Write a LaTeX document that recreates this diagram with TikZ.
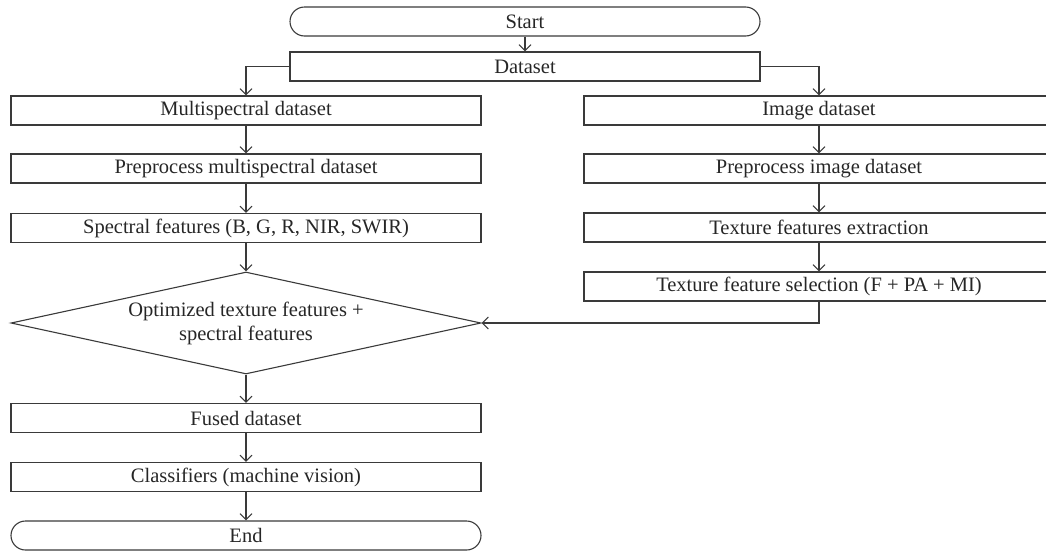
\documentclass[tikz,border=0pt]{standalone}
\usepackage{fontspec}
\setmainfont{Liberation Serif}
\usetikzlibrary{arrows.meta,shapes.geometric}
\definecolor{FL}{HTML}{3A3A3A}
\newcommand*{\flowfont}{\fontsize{20.5}{24}\selectfont\color{black!85}}

\begin{document}
\begin{tikzpicture}[x = 1pt, y = -1pt,
  box/.style = {draw = FL, line width = 1.1pt, minimum width = 470pt,
    minimum height = 29pt, inner sep = 0pt, font = \flowfont},
  terminal/.style = {box, rounded corners = 14.5pt},
  decision/.style = {diamond, draw = FL, line width = 1.1pt,
    minimum width = 470pt, minimum height = 102pt, shape aspect = 4.6,
    inner sep = 0pt, align = center, font = \flowfont},
  flow/.style = {draw = FL, line width = 1.1pt,
    -{Straight Barb[length = 6pt, width = 12pt]}}]
  \useasboundingbox (0,0) rectangle (1046,552);
  % top
  \node[terminal] (start) at (525,21.5) {Start};
  \node[box] (dataset) at (525,66.5) {Dataset};
  % left branch
  \node[box] (multi) at (246,110.5) {Multispectral dataset};
  \node[box] (premulti) at (246,168.5) {Preprocess multispectral dataset};
  \node[box] (spectral) at (246,228) {Spectral features (B, G, R, NIR, SWIR)};
  % right branch
  \node[box] (image) at (819,110.5) {Image dataset};
  \node[box] (preimage) at (819,168.5) {Preprocess image dataset};
  \node[box] (texext) at (819,227.5) {Texture features extraction};
  \node[box] (texsel) at (819,286.5) {Texture feature selection (F + PA + MI)};
  % merge
  \node[decision] (optim) at (246,323)
    {Optimized texture features +\\ spectral features};
  \node[box] (fused) at (246,418) {Fused dataset};
  \node[box] (classif) at (246,477) {Classifiers (machine vision)};
  \node[terminal] (end) at (246,535.5) {End};

  \draw[flow] (start) -- (dataset);
  \draw[flow] (dataset.west) -| (multi.north);
  \draw[flow] (dataset.east) -| (image.north);
  \draw[flow] (multi) -- (premulti);
  \draw[flow] (premulti) -- (spectral);
  \draw[flow] (spectral) -- (optim.north);
  \draw[flow] (image) -- (preimage);
  \draw[flow] (preimage) -- (texext);
  \draw[flow] (texext) -- (texsel);
  \draw[flow] (texsel.south) |- (optim.east);
  \draw[flow] (optim.south) -- (fused);
  \draw[flow] (fused) -- (classif);
  \draw[flow] (classif) -- (end);
\end{tikzpicture}
\end{document}
